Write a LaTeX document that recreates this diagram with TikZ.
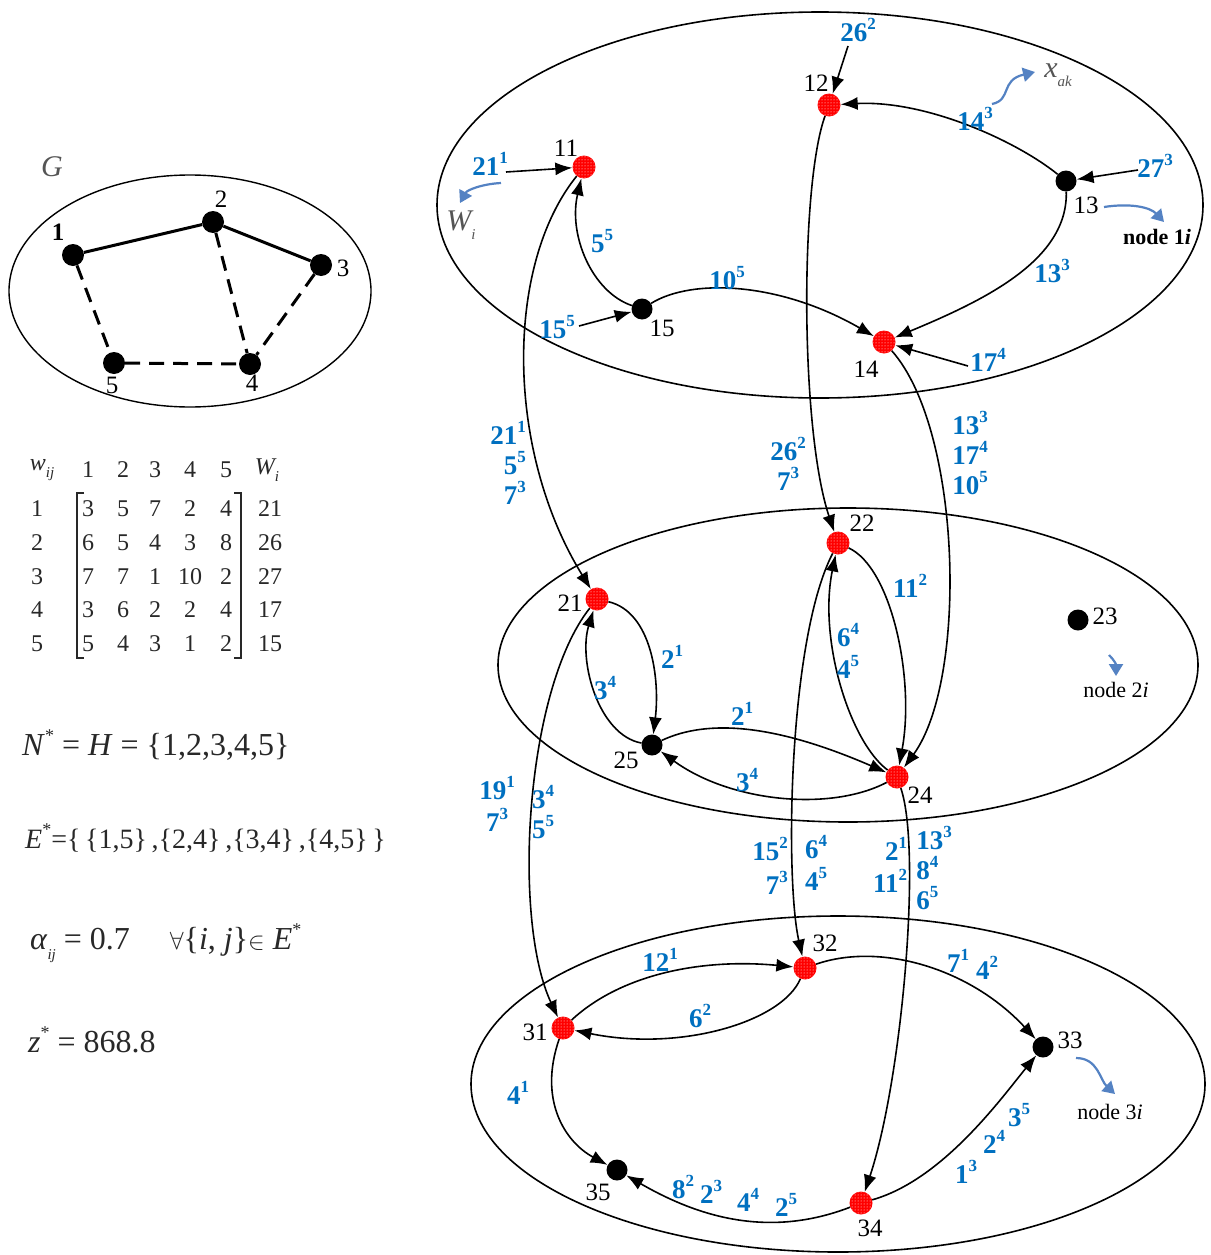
\documentclass[tikz,border=0pt]{standalone}
\usepackage{fontspec}
\setmainfont{Liberation Serif}
\usetikzlibrary{arrows.meta,patterns}
\definecolor{lblue}{RGB}{0,112,192}
\definecolor{abl}{RGB}{84,130,195}
\definecolor{gtx}{RGB}{85,85,85}
\definecolor{mtx}{RGB}{40,40,40}
\newcommand\wlab[2]{\textbf{#1}\raisebox{0.42em}{\fontsize{17}{17}\selectfont\textbf{#2}}}
\newcommand\subs[1]{\raisebox{-0.3em}{\fontsize{15}{15}\selectfont #1}}
\newcommand\sstar{\raisebox{0.45em}{\fontsize{18}{18}\selectfont *}}
\begin{document}
\begin{tikzpicture}[x=1pt,y=-1pt,
 bdot/.style={circle,fill=black,inner sep=0pt,minimum size=21pt},
 gdot/.style={circle,fill=black,inner sep=0pt,minimum size=22pt},
 rdot/.style={circle,fill=red,inner sep=0pt,minimum size=23pt,postaction={pattern=dots,pattern color=white}},
 num/.style={font=\fontsize{25}{26}\selectfont,inner sep=0pt},
 wl/.style={font=\fontsize{27}{30}\selectfont,text=lblue,inner sep=0pt},
 mt/.style={font=\fontsize{24}{24}\selectfont,text=mtx,inner sep=0pt},
 fm/.style={font=\fontsize{32}{32}\selectfont,text=mtx,inner sep=0pt,anchor=west},
 ed/.style={line width=1.6pt,-{Latex[length=17pt,width=13pt]}},
 bar/.style={line width=2.2pt,draw=abl,-{Triangle[length=12pt,width=14pt]}},
 lay/.style={line width=1.6pt},
 gedge/.style={line width=3pt},
 gdash/.style={line width=3pt,dash pattern=on 15pt off 9pt},
]
\useasboundingbox (0,0) rectangle (1210,1255);
\fill[white] (0,0) rectangle (1210,1255);

%% ---------- graph G ----------
\node[font=\fontsize{30}{30}\selectfont\itshape,text=gtx,inner sep=0pt] (Glab) at (52,167) {G};
\draw[line width=1.4pt] (190,291) ellipse [x radius=181pt, y radius=116pt];
\node[gdot] (g1) at (73,255) {};
\node[gdot] (g2) at (213,222) {};
\node[gdot] (g3) at (321,265) {};
\node[gdot] (g4) at (250,364) {};
\node[gdot] (g5) at (114,363) {};
\node[num] (gl1) at (58,232) {\textbf{1}};
\node[num] (gl2) at (221,199) {2};
\node[num] (gl3) at (343,268) {3};
\node[num] (gl4) at (252,383) {4};
\node[num] (gl5) at (112,385) {5};
\draw[gedge] (g1) -- (g2);
\draw[gedge] (g2) -- (g3);
\draw[gdash] (g1) -- (g5);
\draw[gdash] (g2) -- (g4);
\draw[gdash] (g3) -- (g4);
\draw[gdash] (g5) -- (g4);

%% ---------- matrix ----------
\node[mt,font=\fontsize{24}{24}\selectfont\itshape] (hw) at (42,470) {w\subs{ij}};
\foreach \x/\t [count=\i] in {88/1,123/2,155/3,190/4,226/5}
  \node[mt] (h\i) at (\x,470) {\t};
\node[mt,font=\fontsize{24}{24}\selectfont\itshape] (hW) at (267,470) {W\subs{i}};
\foreach \r/\y/\a/\b/\c/\d/\e/\w in {1/509/3/5/7/2/4/21,2/543/6/5/4/3/8/26,3/577/7/7/1/10/2/27,4/610/3/6/2/2/4/17,5/644/5/4/3/1/2/15}{
  \node[mt] (r\r) at (37,\y) {\r};
  \node[mt] (m\r a) at (88,\y) {\a};
  \node[mt] (m\r b) at (123,\y) {\b};
  \node[mt] (m\r c) at (155,\y) {\c};
  \node[mt] (m\r d) at (190,\y) {\d};
  \node[mt] (m\r e) at (226,\y) {\e};
  \node[mt] (wi\r) at (270,\y) {\w};
}
\draw[line width=1.3pt,mtx] (84,493) -- (77,493) -- (77,658) -- (84,658);
\draw[line width=1.3pt,mtx] (234,493) -- (241,493) -- (241,658) -- (234,658);

%% ---------- formulas ----------
\node[fm] (f1) at (22,745) {\textit{N}\sstar\ = \textit{H} = \{1,2,3,4,5\}};
\node[fm,font=\fontsize{28}{28}\selectfont] (f2) at (25,838) {\textit{E}\sstar=\{\,\{1,5\}\,,\{2,4\}\,,\{3,4\}\,,\{4,5\}\,\}};
\node[fm] (f3) at (30,943) {\textit{α}\subs{\textit{ij}} = 0.7\quad\ $\forall$\{\textit{i}, \textit{j}\}$\in$ \textit{E}\sstar};
\node[fm] (f4) at (28,1040) {\textit{z}\sstar\ = 868.8};

%% ---------- layer ellipses ----------
\draw[lay] (820,205) ellipse [x radius=383pt, y radius=193pt];
\draw[lay] (848,665) ellipse [x radius=350pt, y radius=157pt];
\draw[lay] (838,1084) ellipse [x radius=367pt, y radius=168pt];

%% ---------- nodes ----------
\node[rdot] (n11) at (584,167) {};
\node[rdot] (n12) at (829,105) {};
\node[bdot] (n13) at (1066,181) {};
\node[rdot] (n14) at (884,342) {};
\node[bdot] (n15) at (642,309) {};
\node[rdot] (n21) at (597,599) {};
\node[rdot] (n22) at (838,543) {};
\node[bdot] (n23) at (1078,620) {};
\node[rdot] (n24) at (897,777) {};
\node[bdot] (n25) at (652,745) {};
\node[rdot] (n31) at (563,1028) {};
\node[rdot] (n32) at (805,968) {};
\node[bdot] (n33) at (1043,1047) {};
\node[rdot] (n34) at (861,1203) {};
\node[bdot] (n35) at (617,1170) {};

\node[num] (t11) at (566,148) {11};
\node[num] (t12) at (816,83) {12};
\node[num] (t13) at (1086,205) {13};
\node[num] (t14) at (866,369) {14};
\node[num] (t15) at (662,328) {15};
\node[num] (t21) at (570,603) {21};
\node[num] (t22) at (862,523) {22};
\node[num] (t23) at (1105,616) {23};
\node[num] (t24) at (920,795) {24};
\node[num] (t25) at (626,760) {25};
\node[num] (t31) at (535,1032) {31};
\node[num] (t32) at (825,943) {32};
\node[num] (t33) at (1070,1040) {33};
\node[num] (t34) at (870,1228) {34};
\node[num] (t35) at (598,1192) {35};

%% ---------- top layer ----------
\coordinate (c21) at (506,172);
\draw[ed] (c21) -- (n11);
\node[wl] (w211) at (490,164) {\wlab{21}{1}};
\coordinate (wa1) at (501,183);
\coordinate (wa2) at (460,203);
\draw[bar] (wa1) .. controls (482,184) and (467,190) .. (wa2);
\node[font=\fontsize{30}{30}\selectfont\itshape,text=gtx,inner sep=0pt] (Wi) at (461,225) {W\subs{i}};

\coordinate (c26) at (848,46);
\draw[ed] (c26) -- (n12);
\node[wl] (w262) at (858,30) {\wlab{26}{2}};

\draw[ed] (n13) .. controls (1015,140) and (925,100) .. (n12);
\node[wl] (w143) at (975,119) {\wlab{14}{3}};
\coordinate (xa1) at (992,104);
\coordinate (xa2) at (1035,72);
\draw[bar] (xa1) .. controls (1012,100) and (1000,80) .. (xa2);
\node[font=\fontsize{30}{30}\selectfont\itshape,text=gtx,inner sep=0pt] (xak) at (1058,75) {x\subs{ak}};

\coordinate (c27) at (1138,170);
\draw[ed] (c27) -- (n13);
\node[wl] (w273) at (1155,166) {\wlab{27}{3}};

\draw[ed] (n13) .. controls (1068,260) and (985,300) .. (n14);
\node[wl] (w133) at (1052,271) {\wlab{13}{3}};

\coordinate (na1) at (1104,207);
\coordinate (na2) at (1164,222);
\draw[bar] (na1) .. controls (1130,203) and (1150,207) .. (na2);
\node[font=\fontsize{22}{22}\selectfont\bfseries,inner sep=0pt] (node1i) at (1157,237) {node 1\textit{i}};

\draw[ed] (n15) .. controls (592,292) and (568,235) .. (n11);
\node[wl] (w55a) at (602,241) {\wlab{5}{5}};
\draw[ed] (n15) .. controls (692,278) and (780,282) .. (n14);
\node[wl] (w105) at (727,278) {\wlab{10}{5}};

\coordinate (c15) at (579,326);
\draw[ed] (c15) -- (n15);
\node[wl] (w155) at (557,327) {\wlab{15}{5}};

\coordinate (c17) at (968,366);
\draw[ed] (c17) -- (n14);
\node[wl] (w174) at (988,360) {\wlab{17}{4}};

%% ---------- top -> middle ----------
\draw[ed] (n11) .. controls (505,265) and (505,450) .. (n21);
\node[wl,align=right] (wv1) at (508,463) {\wlab{21}{1}\\\wlab{5}{5}\\\wlab{7}{3}};
\draw[ed] (n12) .. controls (800,185) and (800,430) .. (n22);
\node[wl,align=center] (wv2) at (788,464) {\wlab{26}{2}\\\wlab{7}{3}};
\draw[ed] (n14) .. controls (962,430) and (968,680) .. (n24);
\node[wl,align=left] (wv3) at (970,453) {\wlab{13}{3}\\\wlab{17}{4}\\\wlab{10}{5}};

%% ---------- middle layer ----------
\draw[ed] (n21) .. controls (652,612) and (660,680) .. (n25);
\node[wl] (w21a) at (672,657) {\wlab{2}{1}};
\draw[ed] (n25) .. controls (598,735) and (578,660) .. (n21);
\node[wl] (w34a) at (605,688) {\wlab{3}{4}};
\draw[ed] (n25) .. controls (720,713) and (800,735) .. (n24);
\node[wl] (w21b) at (742,714) {\wlab{2}{1}};
\draw[ed] (n24) .. controls (830,812) and (730,802) .. (n25);
\node[wl] (w34b) at (747,780) {\wlab{3}{4}};
\draw[ed] (n22) .. controls (892,568) and (915,680) .. (n24);
\node[wl] (w112) at (910,586) {\wlab{11}{2}};
\draw[ed] (n24) .. controls (850,742) and (818,640) .. (n22);
\node[wl,align=center] (w6445) at (848,651) {\wlab{6}{4}\\[2pt]\wlab{4}{5}};

\coordinate (nb1) at (1109,655);
\coordinate (nb2) at (1116,676);
\draw[bar] (nb1) .. controls (1114,660) and (1116,664) .. (nb2);
\node[font=\fontsize{22}{22}\selectfont,inner sep=0pt] (node2i) at (1116,690) {node 2\textit{i}};

%% ---------- middle -> bottom ----------
\draw[ed] (n21) .. controls (525,690) and (512,920) .. (n31);
\node[wl,align=center] (wv4) at (497,804) {\wlab{19}{1}\\[2pt]\wlab{7}{3}};
\node[wl,align=center] (wv5) at (543,812) {\wlab{3}{4}\\\wlab{5}{5}};
\draw[ed] (n22) .. controls (788,640) and (785,880) .. (n32);
\node[wl,align=right] (wv6) at (770,866) {\wlab{15}{2}\\[4pt]\wlab{7}{3}};
\node[wl,align=left] (wv7) at (816,863) {\wlab{6}{4}\\[2pt]\wlab{4}{5}};
\draw[ed] (n24) .. controls (922,850) and (902,1080) .. (n34);
\node[wl,align=right] (wv8) at (890,865) {\wlab{2}{1}\\[2pt]\wlab{11}{2}};
\node[wl,align=left] (wv9) at (934,868) {\wlab{13}{3}\\\wlab{8}{4}\\\wlab{6}{5}};

%% ---------- bottom layer ----------
\draw[ed] (n31) .. controls (620,975) and (700,958) .. (n32);
\node[wl] (w121) at (660,960) {\wlab{12}{1}};
\draw[ed] (n32) .. controls (782,1022) and (680,1052) .. (n31);
\node[wl] (w62) at (700,1016) {\wlab{6}{2}};
\draw[ed] (n32) .. controls (880,942) and (970,968) .. (n33);
\node[wl] (w71) at (958,961) {\wlab{7}{1}};
\node[wl] (w42) at (987,968) {\wlab{4}{2}};
\draw[ed] (n34) .. controls (942,1180) and (1000,1100) .. (n33);
\node[wl] (w13b) at (966,1172) {\wlab{1}{3}};
\node[wl] (w24b) at (994,1142) {\wlab{2}{4}};
\node[wl] (w35b) at (1019,1115) {\wlab{3}{5}};
\draw[ed] (n34) .. controls (770,1238) and (700,1218) .. (n35);
\node[wl] (w82) at (683,1187) {\wlab{8}{2}};
\node[wl] (w23) at (711,1192) {\wlab{2}{3}};
\node[wl] (w44) at (748,1200) {\wlab{4}{4}};
\node[wl] (w25) at (786,1205) {\wlab{2}{5}};
\draw[ed] (n31) .. controls (538,1100) and (565,1142) .. (n35);
\node[wl] (w41) at (518,1093) {\wlab{4}{1}};

\coordinate (nc1) at (1076,1058);
\coordinate (nc2) at (1115,1094);
\draw[bar] (nc1) .. controls (1098,1058) and (1100,1080) .. (nc2);
\node[font=\fontsize{22}{22}\selectfont,inner sep=0pt] (node3i) at (1110,1112) {node 3\textit{i}};
\end{tikzpicture}
\end{document}
